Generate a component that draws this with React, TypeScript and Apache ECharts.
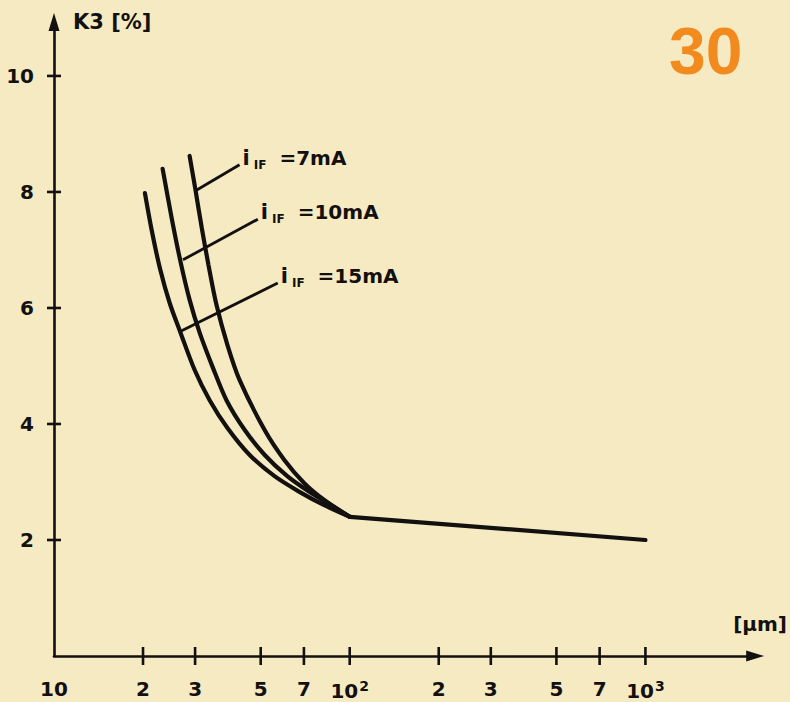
import React, { useEffect, useRef } from 'react';
import * as echarts from 'echarts';

const xTickValues = [10, 20, 30, 50, 70, 100, 200, 300, 500, 700, 1000];
const xTickLabels = ['10', '2', '3', '5', '7', '10|2', '2', '3', '5', '7', '10|3'];
const yTickValues = [2, 4, 6, 8, 10];
const yTickLabels = ['2', '4', '6', '8', '10'];

const curve15mA = [[20.3, 7.98], [21.4, 7.34], [22.8, 6.69], [24.6, 6.09], [26.8, 5.57], [29.9, 4.93], [33.6, 4.41], [38.6, 3.93], [45.8, 3.47], [55.7, 3.1], [67.6, 2.83], [82.0, 2.6], [100, 2.4]];
const curve10mA = [[23.3, 8.4], [25.0, 7.55], [26.8, 6.79], [28.75, 6.14], [31.1, 5.57], [34.4, 4.98], [38.3, 4.41], [44.1, 3.9], [51.5, 3.47], [61.5, 3.1], [73.0, 2.83], [85.3, 2.62], [100, 2.4]];
const curve7mA = [[28.75, 8.62], [30.1, 8.03], [31.6, 7.38], [33.3, 6.74], [35.45, 6.05], [38.6, 5.36], [42.4, 4.76], [51.5, 3.9], [60.1, 3.38], [70.2, 2.98], [82.0, 2.69], [100, 2.4]];
const commonLine = [[100, 2.4], [1000, 2.0]];

const leader7mA = [[30.3, 8.03], [42.4, 8.47]];
const leader10mA = [[27.3, 6.83], [48.9, 7.53]];
const leader15mA = [[26.6, 5.59], [57.1, 6.43]];
const leaderTexts = ['=7mA', '=10mA', '=15mA'];

const INK = '#121110';
const BG = '#f6eac3';
const FONT = '"DejaVu Sans", sans-serif';

export default function App() {
  const ref = useRef<HTMLDivElement>(null);
  useEffect(() => {
    if (!ref.current) return;
    const chart = echarts.init(ref.current, undefined, { renderer: 'svg' });

    const curveSeries = (name: string, data: number[][]) => ({
      name,
      type: 'line',
      data,
      smooth: 0.3,
      symbol: 'none',
      lineStyle: { color: INK, width: 4.2, cap: 'round' },
      silent: true,
      z: 3,
    });

    const leaderSeries = (name: string, data: number[][], text: string) => ({
      name,
      type: 'line',
      data,
      symbol: 'none',
      lineStyle: { color: INK, width: 2.8 },
      silent: true,
      z: 3,
      endLabel: {
        show: true,
        distance: 3,
        offset: [0, -7],
        formatter: () => '{i|i}{s|IF}{t|' + text + '}',
        rich: {
          i: { fontSize: 21, fontWeight: 'bold', fontFamily: FONT, color: INK },
          s: { fontSize: 12, fontWeight: 'bold', fontFamily: FONT, color: INK, padding: [14, 0, 0, 4] },
          t: { fontSize: 20, fontWeight: 'bold', fontFamily: FONT, color: INK, padding: [0, 0, 0, 13] },
        },
      },
    });

    const richTick = {
      b: { fontSize: 20, fontWeight: 'bold', fontFamily: FONT, color: INK, opacity: 1 },
      p: { fontSize: 14, fontWeight: 'bold', fontFamily: FONT, color: INK, padding: [0, 0, 10, 1] },
    };

    chart.setOption({
      animation: false,
      backgroundColor: BG,
      grid: { left: 54, right: 33, top: 22, bottom: 46, containLabel: false },
      xAxis: {
        type: 'log',
        logBase: 10,
        min: 10,
        max: 2350,
        name: '[µm]',
        nameLocation: 'end',
        nameGap: -22,
        nameTextStyle: {
          align: 'left',
          verticalAlign: 'bottom',
          padding: [0, 0, 22, 0],
          fontSize: 20,
          fontWeight: 'bold',
          fontFamily: FONT,
          color: INK,
        },
        axisLine: {
          show: true,
          symbol: ['none', 'triangle'],
          symbolSize: [11, 18],
          lineStyle: { color: INK, width: 2.6 },
        },
        axisTick: { show: false },
        minorTick: { show: false },
        axisLabel: { show: false },
        splitLine: { show: false },
      },
      yAxis: {
        type: 'value',
        min: 0,
        max: 10.93,
        name: 'K3 [%]',
        nameLocation: 'end',
        nameGap: 0,
        nameTextStyle: {
          align: 'left',
          verticalAlign: 'middle',
          padding: [0, 0, 0, 19],
          fontSize: 21,
          fontWeight: 'bold',
          fontFamily: FONT,
          color: INK,
        },
        axisLine: {
          show: true,
          symbol: ['none', 'triangle'],
          symbolSize: [11, 18],
          lineStyle: { color: INK, width: 2.6 },
        },
        axisTick: { show: false },
        axisLabel: { show: false },
        splitLine: { show: false },
      },
      series: [
        curveSeries('15mA', curve15mA),
        curveSeries('10mA', curve10mA),
        curveSeries('7mA', curve7mA),
        {
          name: 'common',
          type: 'line',
          data: commonLine,
          symbol: 'none',
          lineStyle: { color: INK, width: 4.2, cap: 'round' },
          silent: true,
          z: 3,
        },
        leaderSeries('leader 7mA', leader7mA, leaderTexts[0]),
        leaderSeries('leader 10mA', leader10mA, leaderTexts[1]),
        leaderSeries('leader 15mA', leader15mA, leaderTexts[2]),
        {
          name: 'xticks',
          type: 'scatter',
          clip: false,
          silent: true,
          symbol: 'rect',
          data: xTickValues.map((v, i) => ({
            value: [v, 0],
            symbolSize: i === 0 ? [0.01, 18] : [2.6, 18],
          })),
          itemStyle: { color: INK, opacity: 1 },
          label: {
            show: true,
            position: 'bottom',
            distance: 14,
            formatter: (p: any) => {
              const parts = xTickLabels[p.dataIndex].split('|');
              return parts.length > 1 ? '{b|' + parts[0] + '}{p|' + parts[1] + '}' : '{b|' + parts[0] + '}';
            },
            rich: richTick,
          },
          z: 4,
        },
        {
          name: 'yticks',
          type: 'scatter',
          clip: false,
          silent: true,
          symbol: 'rect',
          data: yTickValues.map((v) => [10, v]),
          symbolSize: [14, 2.6],
          itemStyle: { color: INK, opacity: 1 },
          label: {
            show: true,
            position: 'left',
            distance: 13,
            formatter: (p: any) => '{b|' + yTickLabels[p.dataIndex] + '}',
            rich: richTick,
          },
          z: 4,
        },
      ],
      graphic: [
        {
          type: 'text',
          left: 669,
          top: 18,
          style: {
            text: '30',
            fontSize: 66,
            fontWeight: 'bold',
            fontFamily: '"Liberation Sans", Arial, sans-serif',
            fill: '#f28a1e',
          },
          silent: true,
        },
      ],
    });
    return () => chart.dispose();
  }, []);

  return (
    <div
      ref={ref}
      style={{ position: 'fixed', left: 0, top: 0, width: 790, height: 702, background: BG }}
    />
  );
}
